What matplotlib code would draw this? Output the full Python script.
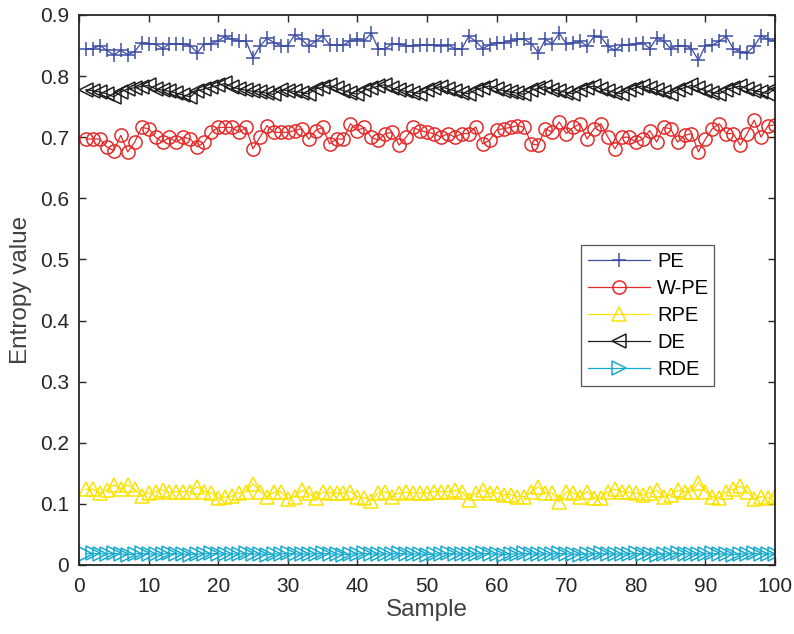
import numpy as np
import matplotlib
matplotlib.use('Agg')
import matplotlib.pyplot as plt

plt.rcParams['font.family'] = ['Liberation Sans', 'DejaVu Sans']

sample = np.arange(1, 101)

pe = [0.845, 0.845, 0.850, 0.842, 0.835, 0.842, 0.835, 0.840, 0.855, 0.853,
      0.853, 0.845, 0.853, 0.853, 0.853, 0.850, 0.838, 0.853, 0.853, 0.858,
      0.865, 0.860, 0.857, 0.857, 0.830, 0.849, 0.862, 0.855, 0.850, 0.850,
      0.868, 0.860, 0.849, 0.857, 0.866, 0.851, 0.851, 0.851, 0.857, 0.860,
      0.858, 0.870, 0.845, 0.845, 0.853, 0.853, 0.850, 0.850, 0.851, 0.851,
      0.851, 0.850, 0.851, 0.845, 0.845, 0.865, 0.857, 0.845, 0.851, 0.855,
      0.855, 0.858, 0.860, 0.860, 0.853, 0.838, 0.860, 0.853, 0.870, 0.853,
      0.855, 0.857, 0.849, 0.865, 0.864, 0.849, 0.842, 0.851, 0.851, 0.853,
      0.855, 0.845, 0.862, 0.858, 0.845, 0.850, 0.850, 0.845, 0.826, 0.850,
      0.851, 0.857, 0.865, 0.845, 0.840, 0.838, 0.849, 0.866, 0.860, 0.857]

wpe = [0.697, 0.697, 0.697, 0.684, 0.678, 0.703, 0.676, 0.692, 0.716, 0.714,
       0.700, 0.692, 0.700, 0.692, 0.700, 0.697, 0.684, 0.692, 0.708, 0.716,
       0.716, 0.716, 0.708, 0.716, 0.681, 0.700, 0.719, 0.708, 0.708, 0.708,
       0.711, 0.714, 0.697, 0.711, 0.716, 0.689, 0.697, 0.697, 0.722, 0.711,
       0.716, 0.700, 0.695, 0.706, 0.708, 0.687, 0.700, 0.716, 0.711, 0.708,
       0.706, 0.700, 0.706, 0.700, 0.706, 0.706, 0.717, 0.689, 0.695, 0.712,
       0.714, 0.716, 0.719, 0.716, 0.689, 0.687, 0.714, 0.708, 0.725, 0.706,
       0.716, 0.722, 0.697, 0.714, 0.722, 0.700, 0.681, 0.700, 0.700, 0.692,
       0.697, 0.711, 0.692, 0.716, 0.714, 0.692, 0.703, 0.706, 0.676, 0.697,
       0.714, 0.722, 0.706, 0.706, 0.687, 0.706, 0.728, 0.700, 0.719, 0.720]

rpe = [0.124, 0.124, 0.118, 0.123, 0.131, 0.125, 0.131, 0.124, 0.113, 0.118,
       0.120, 0.123, 0.119, 0.120, 0.120, 0.120, 0.128, 0.120, 0.118, 0.110,
       0.111, 0.113, 0.118, 0.120, 0.133, 0.120, 0.112, 0.119, 0.120, 0.108,
       0.112, 0.122, 0.118, 0.109, 0.119, 0.118, 0.118, 0.118, 0.120, 0.112,
       0.110, 0.105, 0.118, 0.120, 0.112, 0.118, 0.119, 0.118, 0.118, 0.118,
       0.120, 0.120, 0.120, 0.122, 0.120, 0.107, 0.118, 0.122, 0.118, 0.118,
       0.115, 0.115, 0.112, 0.112, 0.120, 0.128, 0.118, 0.118, 0.103, 0.120,
       0.118, 0.112, 0.120, 0.110, 0.110, 0.120, 0.124, 0.120, 0.119, 0.118,
       0.115, 0.118, 0.122, 0.112, 0.115, 0.122, 0.120, 0.120, 0.135, 0.120,
       0.112, 0.110, 0.120, 0.124, 0.129, 0.120, 0.108, 0.112, 0.110, 0.113]

de = [0.778, 0.776, 0.774, 0.771, 0.766, 0.774, 0.779, 0.781, 0.783, 0.785,
      0.779, 0.777, 0.775, 0.772, 0.769, 0.766, 0.776, 0.779, 0.782, 0.785,
      0.788, 0.782, 0.779, 0.777, 0.775, 0.774, 0.772, 0.770, 0.778, 0.776,
      0.775, 0.773, 0.771, 0.779, 0.782, 0.785, 0.780, 0.776, 0.773, 0.770,
      0.777, 0.780, 0.784, 0.786, 0.780, 0.777, 0.775, 0.773, 0.771, 0.777,
      0.780, 0.783, 0.779, 0.776, 0.773, 0.771, 0.778, 0.781, 0.784, 0.779,
      0.776, 0.774, 0.772, 0.770, 0.777, 0.780, 0.783, 0.778, 0.776, 0.773,
      0.771, 0.778, 0.781, 0.784, 0.779, 0.776, 0.773, 0.771, 0.778, 0.781,
      0.784, 0.780, 0.777, 0.774, 0.771, 0.778, 0.781, 0.785, 0.780, 0.776,
      0.773, 0.771, 0.778, 0.781, 0.784, 0.779, 0.776, 0.774, 0.771, 0.780]

rde = [0.018, 0.019, 0.018, 0.018, 0.019, 0.018, 0.017, 0.018, 0.019, 0.018,
       0.018, 0.018, 0.019, 0.018, 0.018, 0.017, 0.018, 0.018, 0.019, 0.018,
       0.018, 0.018, 0.018, 0.019, 0.018, 0.018, 0.017, 0.018, 0.018, 0.019,
       0.018, 0.018, 0.018, 0.018, 0.019, 0.018, 0.018, 0.017, 0.018, 0.018,
       0.019, 0.018, 0.018, 0.018, 0.018, 0.019, 0.018, 0.018, 0.018, 0.017,
       0.018, 0.018, 0.019, 0.018, 0.018, 0.018, 0.018, 0.019, 0.018, 0.018,
       0.017, 0.018, 0.018, 0.019, 0.018, 0.018, 0.018, 0.018, 0.019, 0.018,
       0.018, 0.017, 0.018, 0.018, 0.019, 0.018, 0.018, 0.018, 0.018, 0.019,
       0.018, 0.018, 0.017, 0.018, 0.018, 0.019, 0.018, 0.018, 0.018, 0.018,
       0.019, 0.018, 0.018, 0.017, 0.018, 0.018, 0.019, 0.018, 0.018, 0.018]

fig = plt.figure(figsize=(7.94, 6.34), dpi=100)
ax = fig.add_axes([79/794, 1 - 565/634, 696/794, 550/634])

ax.plot(sample, pe, color='#3D4EA3', marker='+', markersize=10, mew=1.1, lw=0.9, label='PE')
ax.plot(sample, wpe, color='#E52A2A', marker='o', markersize=9.5, mfc='none', mew=1.1, lw=0.9, label='W-PE')
ax.plot(sample, rpe, color='#FAE300', marker='^', markersize=10, mfc='none', mew=1.1, lw=0.9, label='RPE')
ax.plot(sample, de, color='#1E1E1E', marker='<', markersize=10, mfc='none', mew=1.1, lw=0.9, label='DE')
ax.plot(sample, rde, color='#17AACD', marker='>', markersize=10, mfc='none', mew=1.1, lw=0.9, label='RDE')

ax.set_xlim(0, 100)
ax.set_ylim(0, 0.9)
ax.set_xticks(np.arange(0, 101, 10))
ax.set_yticks(np.arange(0, 0.91, 0.1))
ax.set_yticklabels(['0', '0.1', '0.2', '0.3', '0.4', '0.5', '0.6', '0.7', '0.8', '0.9'])
ax.tick_params(direction='in', top=True, right=True, length=5, width=1,
               labelsize=15, colors='#262626')
ax.tick_params(axis='x', pad=9)
ax.tick_params(axis='y', pad=7)
for sp in ax.spines.values():
    sp.set_linewidth(1.3)
    sp.set_color('#262626')

ax.set_xlabel('Sample', fontsize=17.5, color='#404040', labelpad=2)
ax.set_ylabel('Entropy value', fontsize=17.5, color='#404040', labelpad=6)

leg = ax.legend(loc='lower left', bbox_to_anchor=(0.721, 0.325, 0.191, 0.251), mode='expand',
                fontsize=14.5, handlelength=3.1, handletextpad=0.35, borderpad=0.35,
                labelspacing=0.4, borderaxespad=0,
                fancybox=False, framealpha=1, edgecolor='#555555')
leg.get_frame().set_linewidth(0.9)

fig.savefig('out.png', dpi=100)
